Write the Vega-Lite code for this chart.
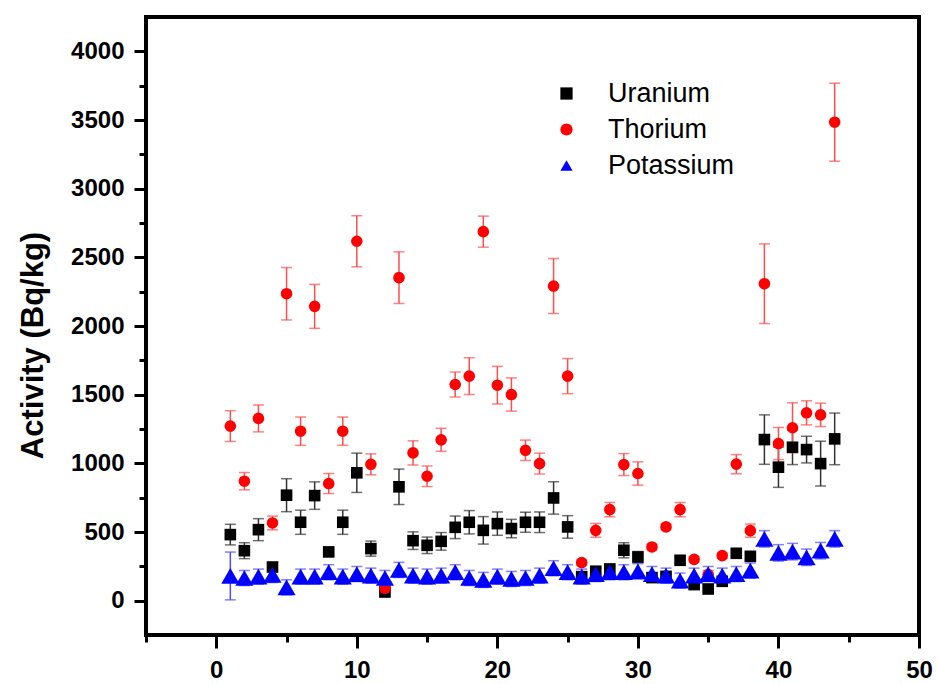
{
  "$schema": "https://vega.github.io/schema/vega-lite/v6.json",
  "width": 773,
  "height": 618,
  "autosize": {"type": "none"},
  "padding": {"left": 146, "top": 17, "right": 20, "bottom": 49},
  "background": "white",
  "config": {"view": {"stroke": "black", "strokeWidth": 4}, "font": "Liberation Sans"},
  "data": {
    "values": [
      {"sample": 1, "activity": 481, "err": 75, "element": "Uranium"},
      {"sample": 2, "activity": 364, "err": 58, "element": "Uranium"},
      {"sample": 3, "activity": 517, "err": 80, "element": "Uranium"},
      {"sample": 4, "activity": 245, "err": 20, "element": "Uranium"},
      {"sample": 5, "activity": 768, "err": 120, "element": "Uranium"},
      {"sample": 6, "activity": 571, "err": 88, "element": "Uranium"},
      {"sample": 7, "activity": 765, "err": 100, "element": "Uranium"},
      {"sample": 8, "activity": 355, "err": 25, "element": "Uranium"},
      {"sample": 9, "activity": 571, "err": 88, "element": "Uranium"},
      {"sample": 10, "activity": 931, "err": 143, "element": "Uranium"},
      {"sample": 11, "activity": 379, "err": 55, "element": "Uranium"},
      {"sample": 12, "activity": 63, "err": 10, "element": "Uranium"},
      {"sample": 13, "activity": 829, "err": 129, "element": "Uranium"},
      {"sample": 14, "activity": 437, "err": 64, "element": "Uranium"},
      {"sample": 15, "activity": 403, "err": 60, "element": "Uranium"},
      {"sample": 16, "activity": 432, "err": 64, "element": "Uranium"},
      {"sample": 17, "activity": 534, "err": 82, "element": "Uranium"},
      {"sample": 18, "activity": 571, "err": 85, "element": "Uranium"},
      {"sample": 19, "activity": 512, "err": 100, "element": "Uranium"},
      {"sample": 20, "activity": 561, "err": 85, "element": "Uranium"},
      {"sample": 21, "activity": 525, "err": 67, "element": "Uranium"},
      {"sample": 22, "activity": 571, "err": 73, "element": "Uranium"},
      {"sample": 23, "activity": 571, "err": 75, "element": "Uranium"},
      {"sample": 24, "activity": 748, "err": 118, "element": "Uranium"},
      {"sample": 25, "activity": 537, "err": 82, "element": "Uranium"},
      {"sample": 26, "activity": 175, "err": 20, "element": "Uranium"},
      {"sample": 27, "activity": 214, "err": 20, "element": "Uranium"},
      {"sample": 28, "activity": 231, "err": 20, "element": "Uranium"},
      {"sample": 29, "activity": 367, "err": 55, "element": "Uranium"},
      {"sample": 30, "activity": 318, "err": 40, "element": "Uranium"},
      {"sample": 31, "activity": 168, "err": 15, "element": "Uranium"},
      {"sample": 32, "activity": 177, "err": 15, "element": "Uranium"},
      {"sample": 33, "activity": 294, "err": 20, "element": "Uranium"},
      {"sample": 34, "activity": 117, "err": 15, "element": "Uranium"},
      {"sample": 35, "activity": 85, "err": 15, "element": "Uranium"},
      {"sample": 36, "activity": 141, "err": 15, "element": "Uranium"},
      {"sample": 37, "activity": 345, "err": 30, "element": "Uranium"},
      {"sample": 38, "activity": 323, "err": 25, "element": "Uranium"},
      {"sample": 39, "activity": 1173, "err": 180, "element": "Uranium"},
      {"sample": 40, "activity": 972, "err": 147, "element": "Uranium"},
      {"sample": 41, "activity": 1117, "err": 126, "element": "Uranium"},
      {"sample": 42, "activity": 1100, "err": 97, "element": "Uranium"},
      {"sample": 43, "activity": 998, "err": 163, "element": "Uranium"},
      {"sample": 44, "activity": 1178, "err": 188, "element": "Uranium"},
      {"sample": 1, "activity": 1271, "err": 112, "element": "Thorium"},
      {"sample": 2, "activity": 870, "err": 63, "element": "Thorium"},
      {"sample": 3, "activity": 1327, "err": 98, "element": "Thorium"},
      {"sample": 4, "activity": 566, "err": 50, "element": "Thorium"},
      {"sample": 5, "activity": 2235, "err": 191, "element": "Thorium"},
      {"sample": 6, "activity": 1234, "err": 103, "element": "Thorium"},
      {"sample": 7, "activity": 2143, "err": 160, "element": "Thorium"},
      {"sample": 8, "activity": 853, "err": 73, "element": "Thorium"},
      {"sample": 9, "activity": 1234, "err": 103, "element": "Thorium"},
      {"sample": 10, "activity": 2617, "err": 186, "element": "Thorium"},
      {"sample": 11, "activity": 993, "err": 76, "element": "Thorium"},
      {"sample": 12, "activity": 90, "err": 15, "element": "Thorium"},
      {"sample": 13, "activity": 2352, "err": 188, "element": "Thorium"},
      {"sample": 14, "activity": 1076, "err": 88, "element": "Thorium"},
      {"sample": 15, "activity": 906, "err": 75, "element": "Thorium"},
      {"sample": 16, "activity": 1171, "err": 84, "element": "Thorium"},
      {"sample": 17, "activity": 1574, "err": 91, "element": "Thorium"},
      {"sample": 18, "activity": 1635, "err": 134, "element": "Thorium"},
      {"sample": 19, "activity": 2687, "err": 113, "element": "Thorium"},
      {"sample": 20, "activity": 1569, "err": 137, "element": "Thorium"},
      {"sample": 21, "activity": 1501, "err": 121, "element": "Thorium"},
      {"sample": 22, "activity": 1095, "err": 74, "element": "Thorium"},
      {"sample": 23, "activity": 998, "err": 76, "element": "Thorium"},
      {"sample": 24, "activity": 2291, "err": 200, "element": "Thorium"},
      {"sample": 25, "activity": 1635, "err": 128, "element": "Thorium"},
      {"sample": 26, "activity": 277, "err": 20, "element": "Thorium"},
      {"sample": 27, "activity": 512, "err": 50, "element": "Thorium"},
      {"sample": 28, "activity": 663, "err": 52, "element": "Thorium"},
      {"sample": 29, "activity": 991, "err": 80, "element": "Thorium"},
      {"sample": 30, "activity": 926, "err": 85, "element": "Thorium"},
      {"sample": 31, "activity": 391, "err": 20, "element": "Thorium"},
      {"sample": 32, "activity": 537, "err": 20, "element": "Thorium"},
      {"sample": 33, "activity": 663, "err": 52, "element": "Thorium"},
      {"sample": 34, "activity": 301, "err": 20, "element": "Thorium"},
      {"sample": 35, "activity": 190, "err": 30, "element": "Thorium"},
      {"sample": 36, "activity": 328, "err": 20, "element": "Thorium"},
      {"sample": 37, "activity": 994, "err": 70, "element": "Thorium"},
      {"sample": 38, "activity": 510, "err": 48, "element": "Thorium"},
      {"sample": 39, "activity": 2308, "err": 290, "element": "Thorium"},
      {"sample": 40, "activity": 1144, "err": 117, "element": "Thorium"},
      {"sample": 41, "activity": 1259, "err": 182, "element": "Thorium"},
      {"sample": 42, "activity": 1368, "err": 88, "element": "Thorium"},
      {"sample": 43, "activity": 1353, "err": 85, "element": "Thorium"},
      {"sample": 44, "activity": 3484, "err": 284, "element": "Thorium"},
      {"sample": 1, "activity": 180, "err": 174, "element": "Potassium"},
      {"sample": 2, "activity": 165, "err": 55, "element": "Potassium"},
      {"sample": 3, "activity": 175, "err": 55, "element": "Potassium"},
      {"sample": 4, "activity": 187, "err": 55, "element": "Potassium"},
      {"sample": 5, "activity": 97, "err": 55, "element": "Potassium"},
      {"sample": 6, "activity": 175, "err": 55, "element": "Potassium"},
      {"sample": 7, "activity": 175, "err": 55, "element": "Potassium"},
      {"sample": 8, "activity": 207, "err": 55, "element": "Potassium"},
      {"sample": 9, "activity": 175, "err": 55, "element": "Potassium"},
      {"sample": 10, "activity": 194, "err": 55, "element": "Potassium"},
      {"sample": 11, "activity": 182, "err": 55, "element": "Potassium"},
      {"sample": 12, "activity": 165, "err": 55, "element": "Potassium"},
      {"sample": 13, "activity": 224, "err": 55, "element": "Potassium"},
      {"sample": 14, "activity": 182, "err": 55, "element": "Potassium"},
      {"sample": 15, "activity": 175, "err": 55, "element": "Potassium"},
      {"sample": 16, "activity": 182, "err": 55, "element": "Potassium"},
      {"sample": 17, "activity": 207, "err": 55, "element": "Potassium"},
      {"sample": 18, "activity": 165, "err": 55, "element": "Potassium"},
      {"sample": 19, "activity": 151, "err": 55, "element": "Potassium"},
      {"sample": 20, "activity": 175, "err": 55, "element": "Potassium"},
      {"sample": 21, "activity": 158, "err": 55, "element": "Potassium"},
      {"sample": 22, "activity": 165, "err": 55, "element": "Potassium"},
      {"sample": 23, "activity": 182, "err": 55, "element": "Potassium"},
      {"sample": 24, "activity": 236, "err": 55, "element": "Potassium"},
      {"sample": 25, "activity": 207, "err": 55, "element": "Potassium"},
      {"sample": 26, "activity": 175, "err": 55, "element": "Potassium"},
      {"sample": 27, "activity": 194, "err": 55, "element": "Potassium"},
      {"sample": 28, "activity": 207, "err": 55, "element": "Potassium"},
      {"sample": 29, "activity": 207, "err": 55, "element": "Potassium"},
      {"sample": 30, "activity": 214, "err": 55, "element": "Potassium"},
      {"sample": 31, "activity": 194, "err": 55, "element": "Potassium"},
      {"sample": 32, "activity": 182, "err": 55, "element": "Potassium"},
      {"sample": 33, "activity": 146, "err": 55, "element": "Potassium"},
      {"sample": 34, "activity": 182, "err": 55, "element": "Potassium"},
      {"sample": 35, "activity": 194, "err": 55, "element": "Potassium"},
      {"sample": 36, "activity": 182, "err": 55, "element": "Potassium"},
      {"sample": 37, "activity": 194, "err": 55, "element": "Potassium"},
      {"sample": 38, "activity": 219, "err": 55, "element": "Potassium"},
      {"sample": 39, "activity": 450, "err": 60, "element": "Potassium"},
      {"sample": 40, "activity": 348, "err": 60, "element": "Potassium"},
      {"sample": 41, "activity": 357, "err": 60, "element": "Potassium"},
      {"sample": 42, "activity": 316, "err": 60, "element": "Potassium"},
      {"sample": 43, "activity": 364, "err": 60, "element": "Potassium"},
      {"sample": 44, "activity": 450, "err": 60, "element": "Potassium"}
    ]
  },
  "encoding": {
    "x": {
      "field": "sample",
      "type": "quantitative",
      "scale": {"domain": [-5, 50], "nice": false, "zero": false},
      "axis": {
        "title": null,
        "grid": false,
        "domain": false,
        "values": [-5, 0, 5, 10, 15, 20, 25, 30, 35, 40, 45, 50],
        "labelExpr": "datum.value % 10 === 0 ? datum.label : ''",
        "format": "d",
        "tickColor": "black",
        "tickWidth": 3,
        "tickSize": {"condition": {"test": "datum.value % 10 !== 0", "value": 7}, "value": 13},
        "labelFontSize": 24,
        "labelFontWeight": "bold",
        "labelColor": "black",
        "labelPadding": 10,
        "labelFlush": false,
        "labelOverlap": false
      }
    },
    "y": {
      "field": "activity",
      "type": "quantitative",
      "scale": {"domain": [-250, 4250], "nice": false, "zero": false},
      "axis": {
        "title": "Activity (Bq/kg)",
        "grid": false,
        "domain": false,
        "values": [0, 250, 500, 750, 1000, 1250, 1500, 1750, 2000, 2250, 2500, 2750, 3000, 3250, 3500, 3750, 4000],
        "labelExpr": "datum.value % 500 === 0 ? datum.label : ''",
        "format": "d",
        "tickColor": "black",
        "tickWidth": 3,
        "tickSize": {"condition": {"test": "datum.value % 500 !== 0", "value": 7}, "value": 12},
        "labelFontSize": 24,
        "labelFontWeight": "bold",
        "labelColor": "black",
        "labelPadding": 10,
        "labelFlush": false,
        "labelOverlap": false,
        "titleFontSize": 31,
        "titleFontWeight": "bold",
        "titleColor": "black",
        "titleX": -113,
        "titleY": 328,
        "titleAngle": 270,
        "titleAlign": "center",
        "titleBaseline": "middle"
      }
    }
  },
  "layer": [
    {
      "transform": [{"filter": "datum.element === 'Uranium'"}],
      "mark": {
        "type": "errorbar",
        "color": "#333333",
        "ticks": {"size": 11, "thickness": 1.5, "color": "#333333"},
        "rule": {"strokeWidth": 1.5, "color": "#333333"}
      },
      "encoding": {"yError": {"field": "err"}}
    },
    {
      "transform": [{"filter": "datum.element === 'Thorium'"}],
      "mark": {
        "type": "errorbar",
        "color": "#ff4d4d",
        "ticks": {"size": 11, "thickness": 1.5, "color": "#ff4d4d"},
        "rule": {"strokeWidth": 1.5, "color": "#ff4d4d"}
      },
      "encoding": {"yError": {"field": "err"}}
    },
    {
      "transform": [{"filter": "datum.element === 'Potassium'"}],
      "mark": {
        "type": "errorbar",
        "color": "#4d4dff",
        "ticks": {"size": 11, "thickness": 1.5, "color": "#4d4dff"},
        "rule": {"strokeWidth": 1.5, "color": "#4d4dff"}
      },
      "encoding": {"yError": {"field": "err"}}
    },
    {
      "mark": {"type": "point", "filled": true, "opacity": 1, "size": 135},
      "encoding": {
        "color": {
          "field": "element",
          "type": "nominal",
          "scale": {"domain": ["Uranium", "Thorium", "Potassium"], "range": ["#000000", "#ff0000", "#0000ff"]},
          "legend": {
            "title": null,
            "orient": "none",
            "legendX": 407,
            "legendY": 63,
            "padding": 0,
            "labelFontSize": 27,
            "labelFont": "Liberation Sans",
            "labelColor": "black",
            "symbolSize": 150,
            "symbolStrokeWidth": 0,
            "symbolOpacity": 1,
            "labelOffset": 28,
            "rowPadding": 8
          }
        },
        "shape": {
          "field": "element",
          "type": "nominal",
          "scale": {"domain": ["Uranium", "Thorium", "Potassium"], "range": ["square", "circle", "triangle-up"]},
          "legend": {
            "title": null,
            "orient": "none",
            "legendX": 407,
            "legendY": 63,
            "padding": 0,
            "labelFontSize": 27,
            "labelFont": "Liberation Sans",
            "labelColor": "black",
            "symbolSize": 150,
            "symbolStrokeWidth": 0,
            "symbolOpacity": 1,
            "labelOffset": 28,
            "rowPadding": 8
          }
        }
      }
    },
    {
      "transform": [{"filter": "datum.element === 'Potassium'"}],
      "mark": {"type": "point", "filled": true, "opacity": 1, "shape": "triangle-up", "color": "#0000ff", "size": 330},
      "encoding": {}
    }
  ]
}
